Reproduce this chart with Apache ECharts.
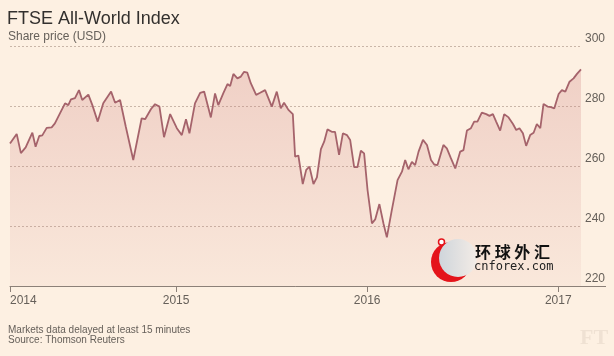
<!DOCTYPE html>
<html>
<head>
<meta charset="utf-8">
<script src="https://cdn.jsdelivr.net/npm/echarts@6/dist/echarts.min.js"></script>
<style>
  html, body { margin: 0; padding: 0; background: #fdf0e2; }
  #chart { width: 614px; height: 356px; }
</style>
</head>
<body>
<div id="chart"></div>
<script>
// Dates as decimal years
const dates = [
  2014.131, 2014.166, 2014.188, 2014.213, 2014.248, 2014.265, 2014.284, 2014.300, 2014.323, 2014.349,
  2014.366, 2014.393, 2014.419, 2014.436, 2014.450, 2014.471, 2014.492, 2014.509, 2014.541, 2014.562,
  2014.590, 2014.619, 2014.660, 2014.681, 2014.707, 2014.737, 2014.776, 2014.820, 2014.838, 2014.869,
  2014.890, 2014.913, 2014.937, 2014.969, 2015.004, 2015.030, 2015.052, 2015.070, 2015.099, 2015.126,
  2015.147, 2015.182, 2015.204, 2015.221, 2015.248, 2015.269, 2015.283, 2015.300, 2015.321, 2015.339,
  2015.356, 2015.373, 2015.391, 2015.419, 2015.440, 2015.466, 2015.501, 2015.527, 2015.548, 2015.565,
  2015.588, 2015.611, 2015.623, 2015.640, 2015.663, 2015.681, 2015.698, 2015.719, 2015.737, 2015.758,
  2015.775, 2015.792, 2015.815, 2015.832, 2015.853, 2015.873, 2015.894, 2015.911, 2015.932, 2015.949,
  2015.967, 2015.984, 2016.002, 2016.025, 2016.042, 2016.064, 2016.085, 2016.103, 2016.129, 2016.159,
  2016.182, 2016.199, 2016.216, 2016.234, 2016.251, 2016.269, 2016.292, 2016.313, 2016.334, 2016.351,
  2016.368, 2016.399, 2016.417, 2016.438, 2016.461, 2016.487, 2016.504, 2016.522, 2016.543, 2016.560,
  2016.577, 2016.600, 2016.623, 2016.640, 2016.658, 2016.675, 2016.696, 2016.717, 2016.740, 2016.763,
  2016.780, 2016.797, 2016.815, 2016.832, 2016.853, 2016.871, 2016.888, 2016.906, 2016.923, 2016.944,
  2016.962, 2016.979, 2017.002, 2017.019, 2017.037, 2017.059, 2017.080, 2017.098, 2017.119
];
const prices = [
  267.5, 270.7, 264.3, 266.2, 271.1, 266.4, 270.0, 270.2, 272.7, 272.9,
  274.2, 277.6, 280.9, 280.3, 282.2, 282.6, 285.3, 282.0, 283.8, 280.3,
  274.8, 280.9, 284.8, 281.1, 282.0, 273.1, 262.0, 275.9, 275.6, 279.0,
  280.6, 279.8, 269.6, 277.3, 272.6, 270.3, 275.6, 270.9, 280.9, 284.4,
  284.8, 276.2, 284.2, 280.3, 284.4, 287.3, 286.7, 290.7, 289.2, 289.8,
  291.4, 291.1, 287.6, 283.7, 284.4, 285.3, 279.8, 284.8, 279.2, 281.1,
  278.7, 277.3, 263.1, 263.5, 254.0, 258.7, 259.8, 254.0, 256.2, 265.6,
  268.1, 272.2, 271.4, 271.4, 263.7, 270.9, 270.3, 268.7, 259.6, 259.6,
  265.1, 264.2, 252.0, 240.9, 242.2, 247.3, 240.9, 236.2, 245.3, 255.3,
  258.1, 262.0, 258.9, 261.4, 260.3, 264.8, 268.7, 267.0, 262.0, 260.5,
  260.3, 267.0, 265.9, 262.6, 259.2, 264.8, 265.3, 271.8, 272.6, 274.8,
  274.8, 277.8, 277.3, 276.7, 277.3, 274.8, 271.8, 277.3, 276.2, 274.0,
  272.0, 272.6, 270.9, 266.7, 270.3, 271.1, 274.0, 272.6, 280.7, 279.8,
  279.6, 279.2, 284.0, 285.3, 284.8, 288.1, 289.2, 290.7, 292.2
];
const yearTicks = [dates[0], 2015, 2016, 2017];
const yTicks = [220, 240, 260, 280, 300];

const textColor = '#66605a';
const font = 'Liberation Sans, Arial, sans-serif';

const chart = echarts.init(document.getElementById('chart'), null, { renderer: 'canvas' });
const seriesData = dates.map((d, i) => [d, prices[i]]);

chart.setOption({
  backgroundColor: '#fdf0e2',
  animation: false,
  textStyle: { fontFamily: font },
  title: [
    { text: 'FTSE All-World Index', left: 7, top: 10, padding: 0,
      textStyle: { fontSize: 18, fontWeight: 'normal', color: '#33302e', fontFamily: font } },
    { text: 'Share price (USD)', left: 8, top: 31, padding: 0,
      textStyle: { fontSize: 12, fontWeight: 'normal', color: textColor, fontFamily: font } },
    { text: 'Markets data delayed at least 15 minutes', left: 8, top: 325, padding: 0,
      textStyle: { fontSize: 10, fontWeight: 'normal', color: textColor, fontFamily: font } },
    { text: 'Source: Thomson Reuters', left: 8, top: 335, padding: 0,
      textStyle: { fontSize: 10, fontWeight: 'normal', color: textColor, fontFamily: font } }
  ],
  grid: { left: 10, right: 33, top: 46, bottom: 70, containLabel: false },
  xAxis: {
    type: 'value',
    min: dates[0],
    max: dates[dates.length - 1],
    axisLine: { show: true, lineStyle: { color: '#8c8078', width: 1 } },
    axisTick: { show: true, length: 6, customValues: yearTicks, lineStyle: { color: '#8c8078' } },
    axisLabel: {
      customValues: yearTicks,
      margin: 9,
      fontSize: 12,
      color: textColor,
      alignMinLabel: 'left',
      formatter: v => String(Math.floor(v + 1e-6))
    },
    splitLine: { show: false }
  },
  yAxis: {
    type: 'value',
    position: 'right',
    min: yTicks[0],
    max: yTicks[yTicks.length - 1],
    interval: 20,
    axisLine: { show: false },
    axisTick: { show: false },
    axisLabel: {
      margin: 4,
      fontSize: 12,
      color: textColor,
      verticalAlign: 'bottom',
      padding: [0, 0, 1, 0]
    },
    splitLine: { show: true, lineStyle: { color: '#c9b6a8', type: [2, 2], width: 1 } }
  },
  series: [{
    type: 'line',
    data: seriesData,
    showSymbol: false,
    smooth: false,
    lineStyle: { color: '#a5636b', width: 1.8 },
    areaStyle: {
      origin: 'start',
      color: {
        type: 'linear', x: 0, y: 0, x2: 0, y2: 1,
        colorStops: [
          { offset: 0, color: 'rgba(205,125,125,0.40)' },
          { offset: 1, color: 'rgba(205,125,125,0.10)' }
        ]
      }
    },
    z: 3
  }],
  graphic: [
    { type: 'line', shape: { x1: 581, y1: 286.5, x2: 606, y2: 286.5 },
      style: { stroke: '#8c8078', lineWidth: 1 }, z: 5 },
    { type: 'text', left: 580, top: 327,
      style: { text: 'FT', font: 'bold 22px "Liberation Serif", serif', fill: 'rgba(120,100,80,0.10)' } },
    // watermark
    { type: 'circle', shape: { cx: 451, cy: 262, r: 20 }, style: { fill: '#e4141b' }, z: 10 },
    { type: 'circle', shape: { cx: 458, cy: 258, r: 19 },
      style: { fill: { type: 'linear', x: 0, y: 0, x2: 1, y2: 0,
        colorStops: [{ offset: 0, color: '#cfd5db' }, { offset: 1, color: '#f3ece6' }] } }, z: 11 },
    { type: 'circle', shape: { cx: 441.5, cy: 242, r: 3 }, style: { fill: '#fff', stroke: '#e4141b', lineWidth: 1.5 }, z: 12 },
    { type: 'text', x: 475, y: 252, z: 12,
      style: { text: '环 球 外 汇', font: 'bold 16px "Noto Sans CJK SC"', fill: '#111', verticalAlign: 'middle' } },
    { type: 'text', x: 474, y: 267, z: 12,
      style: { text: 'cnforex.com', font: '12px "DejaVu Sans Mono", monospace', fill: '#222', verticalAlign: 'middle' } }
  ]
});
</script>
</body>
</html>
